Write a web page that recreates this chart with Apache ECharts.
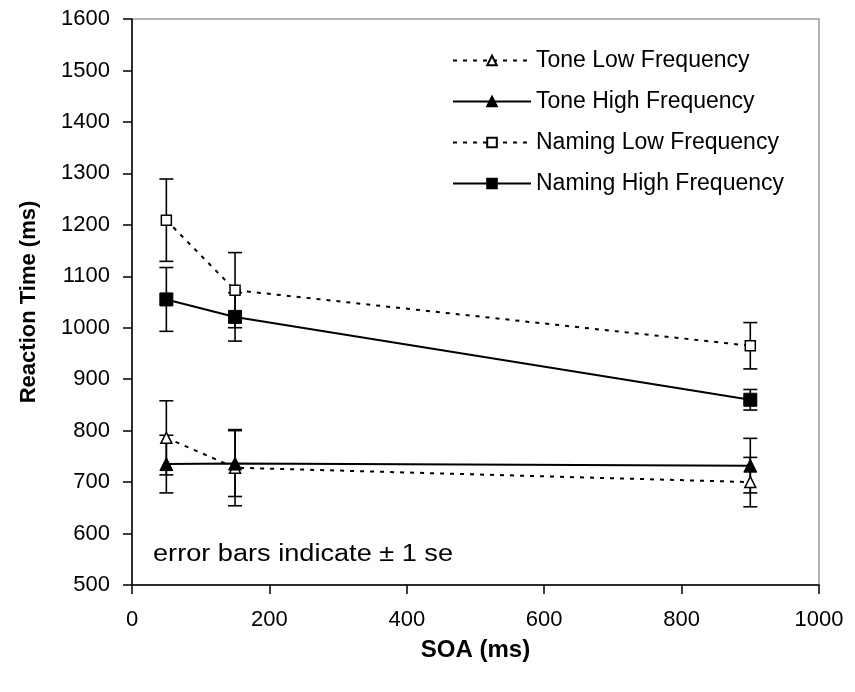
<!DOCTYPE html>
<html>
<head>
<meta charset="utf-8">
<script src="https://cdn.jsdelivr.net/npm/echarts@6/dist/echarts.min.js"></script>
<style>html,body{margin:0;padding:0;background:#fff;}#c{width:855px;height:692px;}</style>
</head>
<body>
<div id="c"></div>
<script>
var soa = [50, 150, 900];
var toneLow = [786, 728, 700];
var toneLowSE = [72, 74, 48];
var toneHigh = [735, 736, 732];
var toneHighSE = [56, 64, 53];
var namingLow = [1209, 1073, 965];
var namingLowSE = [80, 73, 45];
var namingHigh = [1055, 1021, 860];
var namingHighSE = [62, 47, 20];
var seriesNames = ['Tone Low Frequency', 'Tone High Frequency', 'Naming Low Frequency', 'Naming High Frequency'];
var yTicks = [500, 600, 700, 800, 900, 1000, 1100, 1200, 1300, 1400, 1500, 1600];
var xTicks = [0, 200, 400, 600, 800, 1000];

var FONT = 'Liberation Sans, Arial, sans-serif';
function pts(vals){ return soa.map(function(x,i){ return [x, vals[i]]; }); }
function errs(vals, se){ return soa.map(function(x,i){ return [x, vals[i]-se[i], vals[i]+se[i]]; }); }

function errorSeries(vals, se){
  return {
    type: 'custom',
    silent: true,
    z: 3,
    data: errs(vals, se),
    renderItem: function(params, api){
      var x = api.value(0);
      var lo = api.coord([x, api.value(1)]);
      var hi = api.coord([x, api.value(2)]);
      var w = 7;
      var st = {stroke: '#000', lineWidth: 1.6};
      return {type: 'group', children: [
        {type: 'line', shape: {x1: lo[0], y1: lo[1], x2: hi[0], y2: hi[1]}, style: st},
        {type: 'line', shape: {x1: lo[0]-w, y1: lo[1], x2: lo[0]+w, y2: lo[1]}, style: st},
        {type: 'line', shape: {x1: hi[0]-w, y1: hi[1], x2: hi[0]+w, y2: hi[1]}, style: st}
      ]};
    }
  };
}

var chart = echarts.init(document.getElementById('c'));
chart.setOption({
  animation: false,
  backgroundColor: '#fff',
  grid: {left: 132, top: 19, right: 36, bottom: 107, show: true, borderColor: '#999', borderWidth: 1.5, backgroundColor: 'transparent'},
  legend: {
    orient: 'vertical',
    left: 447,
    top: 44,
    itemWidth: 78,
    itemHeight: 12,
    itemGap: 18,
    textStyle: {fontFamily: FONT, fontSize: 23, color: '#000', padding: [0,0,0,0]},
    data: seriesNames
  },
  xAxis: {
    type: 'value', min: 0, max: 1000, interval: 200,
    name: 'SOA (ms)', nameLocation: 'middle', nameGap: 53,
    nameTextStyle: {fontFamily: FONT, fontSize: 24, fontWeight: 'bold', color: '#000'},
    axisLine: {lineStyle: {color: '#000', width: 1.5}},
    axisTick: {show: true, inside: false, length: 9, lineStyle: {color: '#000', width: 1.5}},
    axisLabel: {fontFamily: FONT, fontSize: 22, color: '#000', margin: 24,
      formatter: function(v){ return xTicks.indexOf(v) >= 0 ? String(v) : ''; }},
    splitLine: {show: false}
  },
  yAxis: {
    type: 'value', min: 500, max: 1600, interval: 100,
    name: 'Reaction Time (ms)', nameLocation: 'middle', nameGap: 92,
    nameTextStyle: {fontFamily: FONT, fontSize: 22, fontWeight: 'bold', color: '#000'},
    axisLine: {lineStyle: {color: '#000', width: 1.5}},
    axisTick: {show: true, inside: false, length: 9, lineStyle: {color: '#000', width: 1.5}},
    axisLabel: {fontFamily: FONT, fontSize: 22, color: '#000', margin: 22,
      formatter: function(v){ return yTicks.indexOf(v) >= 0 ? String(v) : ''; }},
    splitLine: {show: false}
  },
  graphic: [{
    type: 'text', x: 153, y: 543, scaleX: 1.18,
    style: {text: 'error bars indicate \u00b1 1 se', font: '23px ' + FONT, fill: '#000'}
  }],
  series: [
    {name: seriesNames[0], type: 'line', data: pts(toneLow), symbol: 'triangle', symbolSize: 11,
      itemStyle: {color: '#fff', borderColor: '#000', borderWidth: 1.5},
      lineStyle: {color: '#000', width: 2, type: [4, 6]}, z: 4},
    {name: seriesNames[1], type: 'line', data: pts(toneHigh), symbol: 'triangle', symbolSize: 13,
      itemStyle: {color: '#000', borderColor: '#000', borderWidth: 1},
      lineStyle: {color: '#000', width: 2, type: 'solid'}, z: 4},
    {name: seriesNames[2], type: 'line', data: pts(namingLow), symbol: 'rect', symbolSize: 10,
      itemStyle: {color: '#fff', borderColor: '#000', borderWidth: 1.5},
      lineStyle: {color: '#000', width: 2, type: [4, 6]}, z: 4},
    {name: seriesNames[3], type: 'line', data: pts(namingHigh), symbol: 'rect', symbolSize: 13,
      itemStyle: {color: '#000', borderColor: '#000', borderWidth: 1},
      lineStyle: {color: '#000', width: 2, type: 'solid'}, z: 4},
    errorSeries(toneLow, toneLowSE),
    errorSeries(toneHigh, toneHighSE),
    errorSeries(namingLow, namingLowSE),
    errorSeries(namingHigh, namingHighSE)
  ]
});
</script>
</body>
</html>
